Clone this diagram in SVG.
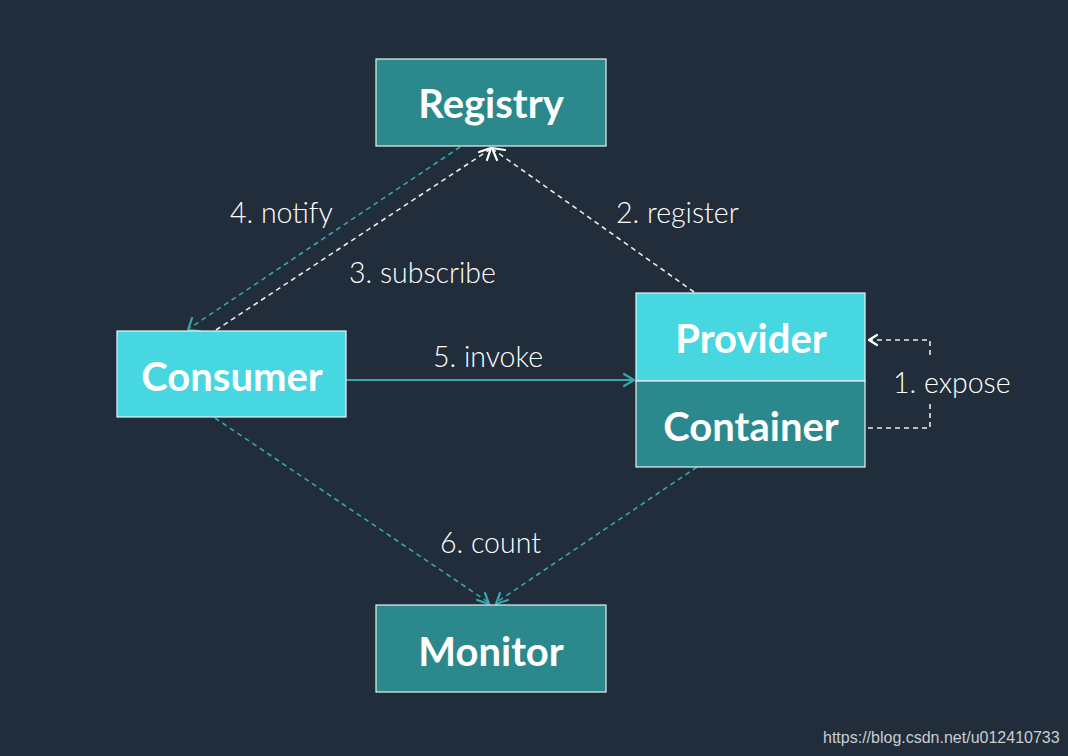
<svg xmlns="http://www.w3.org/2000/svg" width="1068" height="756" viewBox="0 0 1068 756">
<defs>
<style>
.node-dark{fill:#2b898d;stroke:#e6f4f5;stroke-width:1.2}
.node-light{fill:#47d7e0;stroke:#e6f4f5;stroke-width:1.2}
.nlabel{font-family:Lato,"Open Sans","Liberation Sans",sans-serif;font-weight:700;font-size:40px;fill:#ffffff;text-anchor:middle}
.elabel{font-family:Lato,"Open Sans","Liberation Sans",sans-serif;font-weight:300;font-size:28.5px;fill:#ffffff}
.dw{fill:none;stroke:#e8ecef;stroke-width:1.6;stroke-dasharray:5 4}
.dt{fill:none;stroke:#3aa5ab;stroke-width:1.6;stroke-dasharray:5 4}
.st{fill:none;stroke:#3aa5ab;stroke-width:2}
.ahw{fill:none;stroke:#ffffff;stroke-width:2.2;stroke-linecap:round;stroke-linejoin:round}
.aht{fill:none;stroke:#3aa5ab;stroke-width:2.2;stroke-linecap:round;stroke-linejoin:round}
.wm{font-family:"Liberation Sans",Arial,sans-serif;font-size:16px;fill:#c9ced3}
</style>
</defs>
<rect x="0" y="0" width="1068" height="756" fill="#212d3a"/>

<g id="connectors">
<!-- 4. notify -->
<line class="dt" x1="460" y1="147" x2="190" y2="328"/>
<polyline class="aht" points="192,318 188,330 200,331"/>
<!-- 3. subscribe -->
<line class="dw" x1="216" y1="330" x2="489" y2="150"/>
<polyline class="ahw" points="479,152 491,148 487,160"/>
<!-- 2. register -->
<line class="dw" x1="694" y1="292" x2="494" y2="150"/>
<polyline class="ahw" points="497,160 492,148 505,150"/>
<!-- 5. invoke -->
<line class="st" x1="346" y1="380" x2="633" y2="380"/>
<polyline class="aht" points="624,374 634,380 624,386"/>
<!-- 1. expose -->
<polyline class="dw" points="868,428 930,428 930,340 871,340"/>
<polyline class="ahw" points="877,335 869,340 877,345"/>
<!-- 6. count -->
<line class="dt" x1="215" y1="418" x2="488" y2="602"/>
<polyline class="aht" points="477,600 489,604 485,593"/>
<line class="dt" x1="697" y1="467" x2="497" y2="602"/>
<polyline class="aht" points="500,593 496,604 508,600"/>
</g>

<g id="registry">
<rect class="node-dark" x="376" y="59" width="230" height="87"/>
<text class="nlabel" x="491" y="118">Registry</text>
</g>
<g id="consumer">
<rect class="node-light" x="117" y="331" width="229" height="86"/>
<text class="nlabel" x="232" y="391">Consumer</text>
</g>
<g id="provider">
<rect class="node-light" x="636" y="293" width="229" height="88"/>
<text class="nlabel" x="751" y="353">Provider</text>
</g>
<g id="container">
<rect class="node-dark" x="636" y="381" width="229" height="86"/>
<text class="nlabel" x="751" y="441">Container</text>
</g>
<g id="monitor">
<rect class="node-dark" x="376" y="605" width="230" height="87"/>
<text class="nlabel" x="491" y="666">Monitor</text>
</g>

<g id="labels">
<text class="elabel" x="230" y="223">4. notify</text>
<text class="elabel" x="349" y="283">3. subscribe</text>
<text class="elabel" x="616" y="223">2. register</text>
<text class="elabel" x="433" y="367">5. invoke</text>
<rect x="888" y="356" width="126" height="48" fill="#212d3a"/>
<text class="elabel" x="893" y="393">1. expose</text>
<text class="elabel" x="440" y="553">6. count</text>
</g>
<text class="wm" x="823" y="743">https://blog.csdn.net/u012410733</text>
</svg>
